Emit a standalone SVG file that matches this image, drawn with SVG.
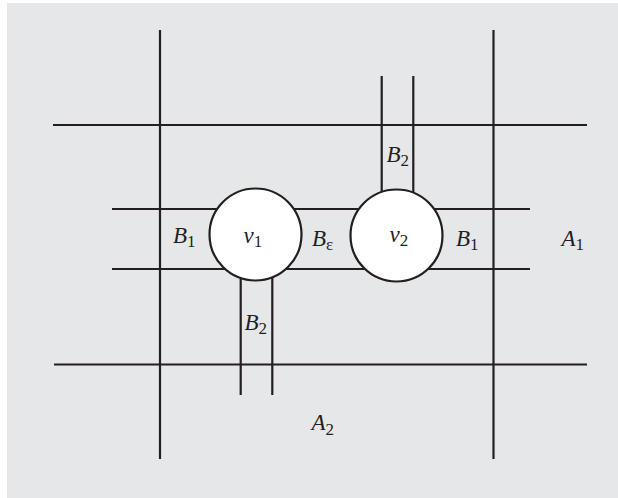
<svg xmlns="http://www.w3.org/2000/svg" width="618" height="498" viewBox="0 0 618 498">
<style>
.ln{stroke:#231f20;stroke-width:2.2;fill:none}
.nd{fill:#ffffff;stroke:#231f20;stroke-width:2.2}
.t{font-family:"Liberation Serif","Times New Roman",serif;font-style:italic;font-size:23px;fill:#231f20}
.s{font-style:normal;font-size:17px}
</style>
<rect x="7" y="3" width="611" height="495" fill="#e6e7e8"/>
<g id="connectors">
<line class="ln" x1="160" y1="30" x2="160" y2="459"/>
<line class="ln" x1="493.5" y1="30" x2="493.5" y2="459"/>
<line class="ln" x1="53" y1="125" x2="587" y2="125"/>
<line class="ln" x1="54" y1="364.5" x2="587" y2="364.5"/>
<line class="ln" x1="112" y1="209" x2="530" y2="209"/>
<line class="ln" x1="112" y1="269" x2="530" y2="269"/>
<line class="ln" x1="240.7" y1="250" x2="240.7" y2="395"/>
<line class="ln" x1="272.3" y1="250" x2="272.3" y2="395"/>
<line class="ln" x1="381.7" y1="76" x2="381.7" y2="230"/>
<line class="ln" x1="413.3" y1="76" x2="413.3" y2="230"/>
</g>
<g id="v1">
<circle class="nd" cx="255.5" cy="234.5" r="46"/>
<text class="t" x="243.5" y="243">v<tspan class="s" dy="4">1</tspan></text>
</g>
<g id="v2">
<circle class="nd" cx="396.5" cy="235.5" r="46"/>
<text class="t" x="389.5" y="242">v<tspan class="s" dy="4">2</tspan></text>
</g>
<g id="labels">
<text class="t" x="173" y="243">B<tspan class="s" dy="4">1</tspan></text>
<text class="t" x="312" y="246">B<tspan class="s" dy="4">ε</tspan></text>
<text class="t" x="456" y="245.5">B<tspan class="s" dy="4">1</tspan></text>
<text class="t" x="561.5" y="245.5">A<tspan class="s" dy="4">1</tspan></text>
<text class="t" x="386.5" y="161.5">B<tspan class="s" dy="4">2</tspan></text>
<text class="t" x="244.5" y="330">B<tspan class="s" dy="4">2</tspan></text>
<text class="t" x="311.5" y="429.5">A<tspan class="s" dy="5">2</tspan></text>
</g>
</svg>
